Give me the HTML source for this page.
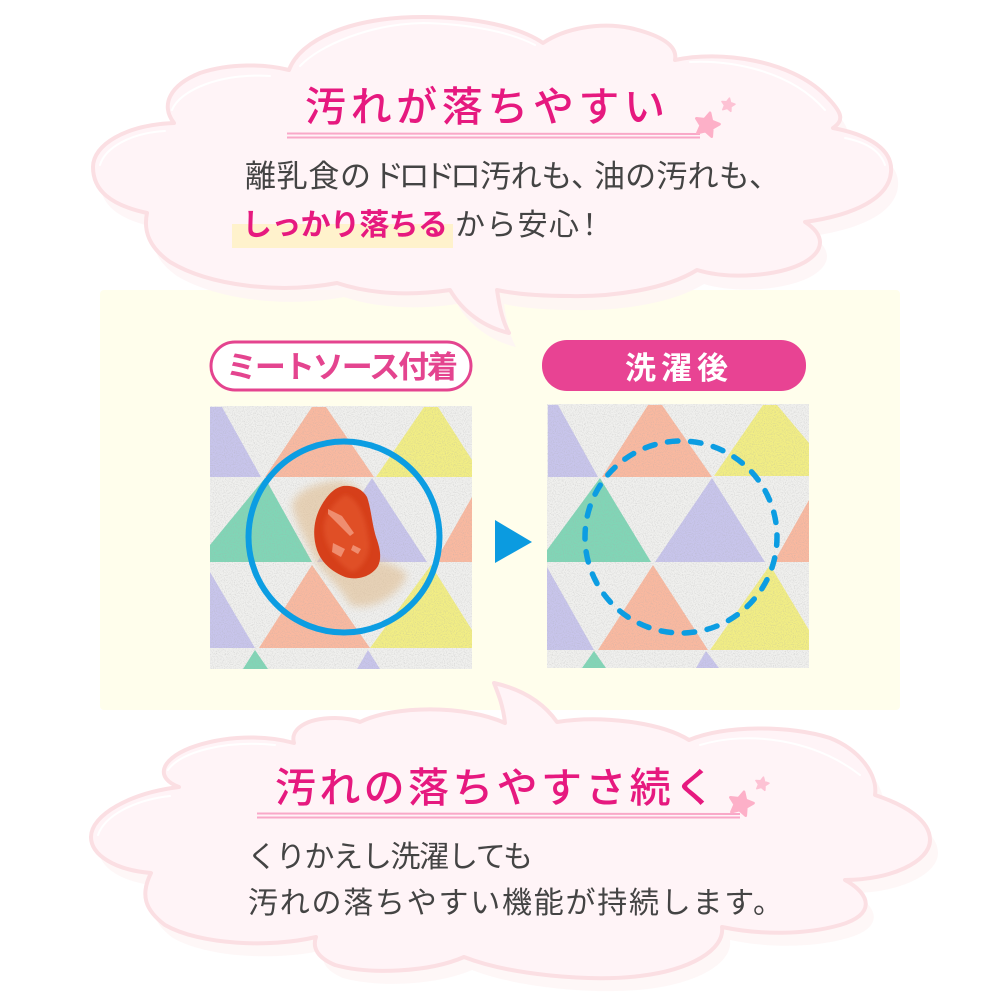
<!DOCTYPE html>
<html><head><meta charset="utf-8"><style>
html,body{margin:0;padding:0;background:#fff;width:1000px;height:1000px;overflow:hidden}
svg{display:block}
text{font-family:"Liberation Sans","Noto Sans CJK JP",sans-serif}
</style></head><body>
<svg width="1000" height="1000" viewBox="0 0 1000 1000" xmlns="http://www.w3.org/2000/svg">
<defs>
<filter id="n" x="0" y="0" width="100%" height="100%"><feTurbulence type="fractalNoise" baseFrequency="0.9" numOctaves="2" seed="3"/><feColorMatrix values="0 0 0 0 0.4  0 0 0 0 0.4  0 0 0 0 0.4  0 0 0 0.9 -0.4"/></filter>
<filter id="b3" x="-20%" y="-20%" width="140%" height="140%"><feGaussianBlur stdDeviation="4"/></filter>
<filter id="b1"><feGaussianBlur stdDeviation="2"/></filter>
<path id="c1" d="M497 290C500 310 503 322 509 333C484 327 463 312 450 290C410 296 370 294 337 283C280 294 210 286 170 262C150 248 143 232 147 213C110 205 93 190 93 167C93 145 125 125 174 123C160 105 170 85 200 73C230 63 265 64 289 70C300 40 350 17 423 17C475 17 520 27 543 43C565 28 600 22 630 28C660 35 678 45 675 60C720 50 790 60 825 95C842 112 845 120 833 128C870 135 893 150 891 172C889 198 855 215 805 222C825 235 825 250 805 262C780 276 730 280 697 270C665 290 610 297 570 296C540 296 515 294 497 290Z"/>
<path id="c2" d="M505 723C503 705 498 693 494 683C525 690 545 705 557 722C600 715 660 722 689 740C725 725 790 725 830 738C860 750 878 775 875 795C905 805 930 820 930 840C930 862 890 880 845 880C872 895 875 915 840 925C805 935 760 935 722 927C725 950 690 970 640 976C590 982 510 975 464 957C430 972 370 975 335 965C318 958 312 948 316 937C270 948 200 945 165 925C145 910 140 895 151 873C115 870 91 855 91 837C91 815 130 793 179 787C155 778 160 760 190 748C225 735 265 735 294 743C290 730 305 718 335 718C345 718 355 720 360 722C395 705 465 705 505 723Z"/>
<polygon id="s" points="0,-1 .294,-.405 .951,-.309 .476,.155 .588,.809 0,.5 -.588,.809 -.476,.155 -.951,-.309 -.294,-.405" stroke-width=".22" stroke-linejoin="round"/>
<clipPath id="f1"><rect x="210" y="406" width="262" height="263"/></clipPath>
<clipPath id="f2"><rect x="547" y="404" width="262" height="264"/></clipPath>
</defs>
<rect width="1000" height="1000" fill="#fff"/>
<rect x="100" y="290" width="800" height="420" rx="4" fill="#fffeec"/>

<!-- top cloud -->
<use href="#c1" transform="translate(7,14)" fill="#fef4f5" opacity=".8"/>
<use href="#c1" fill="#fff4f7" stroke="#fbdfe3" stroke-width="4" stroke-linejoin="round"/>
<g fill="none" stroke="#fff" stroke-width="2" stroke-linecap="round">
<path d="M300 66C320 45 370 24 423 23C470 24 510 32 535 45"/>
<path d="M172 110C180 90 220 73 270 76"/>
<path d="M100 165C105 148 130 133 165 131"/>
<path d="M690 62C730 60 790 70 825 110"/>
<path d="M845 138C865 142 880 150 885 165"/>
</g>

<!-- bottom cloud -->
<use href="#c2" transform="translate(8,13)" fill="#fef5f5" opacity=".8"/>
<use href="#c2" fill="#fff4f7" stroke="#fbdfe3" stroke-width="4" stroke-linejoin="round"/>
<g fill="none" stroke="#fff" stroke-width="2" stroke-linecap="round">
<path d="M168 770C180 752 225 740 275 745"/>
<path d="M98 835C105 815 135 800 170 796"/>
<path d="M700 745C750 730 815 740 860 775"/>
</g>

<!-- headings -->
<text x="305" y="121" font-size="41" font-weight="500" fill="#e6197f" textLength="360" lengthAdjust="spacing">汚れが落ちやすい</text>
<path d="M287 133.500L700 134M287 137.500L700 137.500" stroke="#f9a8c8" stroke-width="2" fill="none"/>
<use href="#s" transform="translate(707,125) rotate(14) scale(12.500)" fill="#fdb0c8" stroke="#fdb0c8"/>
<use href="#s" transform="translate(728,105) rotate(12) scale(7)" fill="#fdc2d4" stroke="#fdc2d4"/>

<text x="275" y="802" font-size="41" font-weight="500" fill="#e6197f" textLength="440" lengthAdjust="spacing">汚れの落ちやすさ続く</text>
<path d="M257 813.500L740 814M257 817.500L740 817.500" stroke="#f9a8c8" stroke-width="2" fill="none"/>
<use href="#s" transform="translate(741,804) rotate(14) scale(12.500)" fill="#fdb0c8" stroke="#fdb0c8"/>
<use href="#s" transform="translate(762,784) rotate(12) scale(7)" fill="#fdc2d4" stroke="#fdc2d4"/>

<!-- body -->
<rect x="232" y="224" width="221" height="24" fill="#fff2cc"/>
<g font-size="31" fill="#444">
<text x="245" y="187" textLength="126" lengthAdjust="spacing">離乳食の</text>
<text x="373" y="187" textLength="108" lengthAdjust="spacing">ドロドロ</text>
<text x="480" y="187" textLength="122" lengthAdjust="spacing">汚れも、</text>
<text x="594" y="187" textLength="186" lengthAdjust="spacing">油の汚れも、</text>
</g>
<text x="242" y="235" font-size="30" font-weight="700" fill="#e6197f" textLength="206" lengthAdjust="spacing">しっかり落ちる</text>
<text x="455" y="235" font-size="30" fill="#444" textLength="124" lengthAdjust="spacing">から安心</text>
<text x="575" y="235" font-size="29" fill="#444">！</text>
<text x="247" y="867" font-size="30" fill="#444" textLength="286" lengthAdjust="spacing">くりかえし洗濯しても</text>
<text x="248" y="913" font-size="30" fill="#444" textLength="535" lengthAdjust="spacing">汚れの落ちやすい機能が持続します。</text>

<!-- pills -->
<rect x="211" y="342" width="260" height="48" rx="24" fill="#fff" stroke="#e4448f" stroke-width="3"/>
<text x="226" y="378" font-size="31" font-weight="700" fill="#e4448f" textLength="232" lengthAdjust="spacing">ミートソース付着</text>
<rect x="542" y="340" width="264" height="51" rx="25" fill="#e84393"/>
<text x="625" y="379" font-size="31" font-weight="700" fill="#fff" textLength="103" lengthAdjust="spacing">洗濯後</text>

<!-- fabric left -->
<g clip-path="url(#f1)">
<rect x="210" y="406" width="262" height="263" fill="#f0f0ee"/>
<polygon points="210,407 222,407 261,477 210,477" fill="#c8c5ec"/>
<polygon points="312,407 326,407 374,477 265,477" fill="#fab9a0"/>
<polygon points="424,407 438,407 472,460 472,477 376,477" fill="#f2ee84"/>
<polygon points="265,478 312,562 210,562 210,545" fill="#80d6b6"/>
<polygon points="372,478 427,562 317,562" fill="#c8c5ec"/>
<polygon points="472,497 472,562 435,562" fill="#fab9a0"/>
<polygon points="210,572 255,648 210,648" fill="#c8c5ec"/>
<polygon points="312,565 370,648 259,648" fill="#fab9a0"/>
<polygon points="431,565 472,630 472,648 370,648" fill="#f2ee84"/>
<polygon points="255,650 268,669 243,669" fill="#80d6b6"/>
<polygon points="368,650 380,669 357,669" fill="#c8c5ec"/>
<rect x="210" y="406" width="262" height="263" filter="url(#n)"/>
<path d="M333 481C312 484 295 492 292 505C296 525 308 545 318 565C330 580 342 590 350 605C372 612 400 595 407 575C400 566 385 562 376 560L360 490C352 482 342 480 333 481Z" fill="#dfb98a" opacity=".55" filter="url(#b3)"/>
</g>
<path d="M343 486C352 485 362 488 367 497C371 508 372 524 376 537C380 548 382 558 378 566C372 576 358 581 345 577C333 572 322 564 317 550C312 535 314 520 320 508C326 497 333 488 343 486Z" fill="#d63f1a"/>
<path d="M345 495C358 498 366 518 368 537C372 552 364 568 352 572C338 564 324 546 324 528C324 514 336 500 345 495Z" fill="#e05028" filter="url(#b1)"/>
<g fill="#f6a88e" opacity=".7"><path d="M328 509l14 7 12 17-4 3-12-12-10-10z"/><path d="M333 543l12 6-4 8-9-5z"/><path d="M353 545l8 4-3 5-7-4z"/></g>
<circle cx="344" cy="537" r="95.500" fill="none" stroke="#0c9de2" stroke-width="6"/>

<!-- arrow -->
<polygon points="495,520 532,542 495,563" fill="#0b9be0"/>

<!-- fabric right -->
<g clip-path="url(#f2)">
<rect x="547" y="404" width="262" height="264" fill="#f0f0ee"/>
<polygon points="548,405 558,405 598,477 548,477" fill="#c8c5ec"/>
<polygon points="648,405 662,405 712,477 602,477" fill="#fab9a0"/>
<polygon points="763,405 777,405 809,443 809,476 714,476" fill="#f2ee84"/>
<polygon points="600,478 651,562 547,562 547,550" fill="#80d6b6"/>
<polygon points="712,478 765,562 655,562" fill="#c8c5ec"/>
<polygon points="809,500 809,562 774,562" fill="#fab9a0"/>
<polygon points="547,567 594,650 547,650" fill="#c8c5ec"/>
<polygon points="653,565 708,650 598,650" fill="#fab9a0"/>
<polygon points="770,565 809,630 809,650 710,650" fill="#f2ee84"/>
<polygon points="594,651 606,668 582,668" fill="#80d6b6"/>
<polygon points="706,651 719,668 696,668" fill="#c8c5ec"/>
<rect x="547" y="404" width="262" height="264" filter="url(#n)"/>
</g>
<circle cx="681" cy="537" r="96" fill="none" stroke="#0c9de2" stroke-width="5.500" stroke-linecap="round" stroke-dasharray="10.500 12.700" transform="rotate(-1.300 681 537)"/>
</svg>
</body></html>
